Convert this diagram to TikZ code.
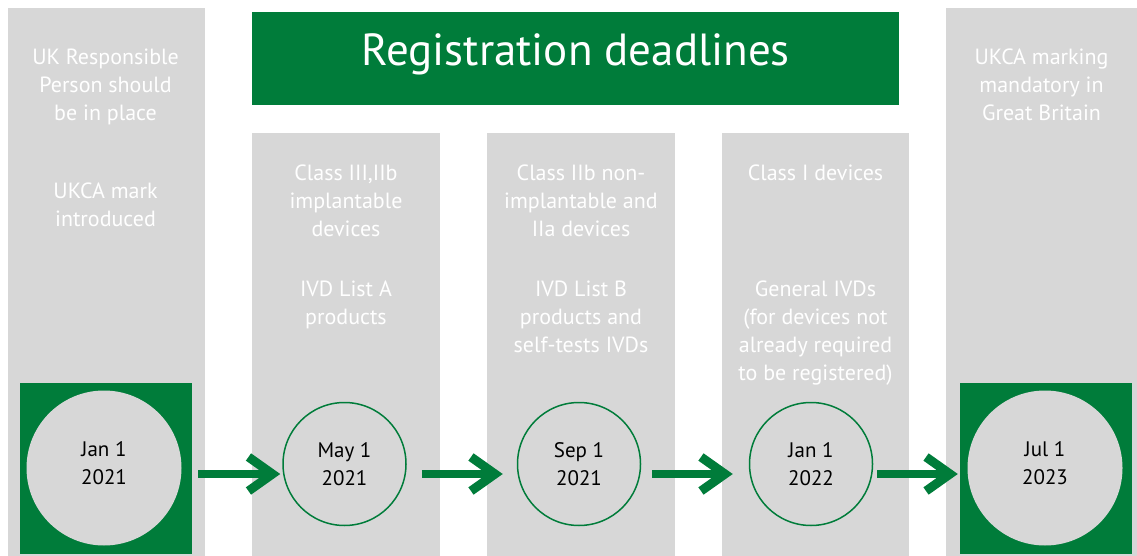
\documentclass[tikz,border=0pt]{standalone}
\usepackage{fontspec}
\setmainfont{PT Sans}
\usetikzlibrary{arrows.meta,positioning}

\definecolor{regGreen}{RGB}{0,124,58}
\definecolor{regGrey}{RGB}{215,215,215}

\begin{document}
\begin{tikzpicture}[
		x=1pt, y=-1pt,
		column/.style={fill=regGrey, inner sep=0pt, anchor=north west},
		heading/.style={fill=regGreen, text=white, inner sep=0pt, anchor=north west, text height=32pt, text depth=18pt, font=\fontsize{45}{54}\selectfont},
		info/.style={text=white, align=center, anchor=north, inner sep=0pt, font=\fontsize{22}{28}\selectfont},
		stamp/.style={fill=regGreen, minimum width=172pt, minimum height=171pt, inner sep=0pt},
		bigdate/.style={circle, fill=regGrey, minimum size=155pt, inner sep=0pt, text depth=10pt, align=center, font=\fontsize{21}{28}\selectfont},
		date/.style={circle, draw=regGreen, line width=1.5pt, minimum size=123pt, inner sep=0pt, align=center, font=\fontsize{21}{28}\selectfont},
		jump/.style={draw=regGreen, line width=8pt, -{Straight Barb[length=24pt, width=34pt, line width=9pt]}},
	]
		\useasboundingbox (0,0) rectangle (1137,556);
		
		\node [column, minimum width=197pt, minimum height=548pt] (col1) at (8,8) {};
		\node [column, minimum width=188pt, minimum height=423pt] (col2) at (252,133) {};
		\node [column, minimum width=188pt, minimum height=423pt] (col3) at (487,133) {};
		\node [column, minimum width=187pt, minimum height=423pt] (col4) at (722,133) {};
		\node [column, minimum width=191pt, minimum height=548pt] (col5) at (946,8) {};
		
		\node [heading, minimum width=647pt, minimum height=93pt] (title) at (252,12) {Registration deadlines};
		
		\node [info] (person) at (105.5,49) {UK Responsible\\Person should\\be in place};
		\node [info] (mark) at (105.5,183) {UKCA mark\\introduced};
		\node [info] (class a) at (346,165) {Class III,IIb\\implantable\\devices};
		\node [info] (ivd a) at (346,281) {IVD List A\\products};
		\node [info] (class b) at (581,165) {Class IIb non-\\implantable and\\IIa devices};
		\node [info] (ivd b) at (581,281) {IVD List B\\products and\\self-tests IVDs};
		\node [info] (class c) at (815.5,165) {Class I devices};
		\node [info] (ivd c) at (815.5,281) {General IVDs\\(for devices not\\already required\\to be registered)};
		\node [info] (mandatory) at (1041.5,49) {UKCA marking\\mandatory in\\Great Britain};
		
		\node [stamp] (start) at (106,468) {};
		\node [stamp] (finish) at (1046,468.5) {};
		\node [bigdate] (jan21) at (104,468) {Jan 1\\2021};
		\node [bigdate] (jul23) at (1045,468) {Jul 1\\2023};
		\node [date] (may21) at (344.5,464) {May 1\\2021};
		\node [date] (sep21) at (579,464) {Sep 1\\2021};
		\node [date] (jan22) at (811,464) {Jan 1\\2022};
		
		\coordinate (rail) at (0,474);
		\draw[jump, shorten <=6pt, shorten >=2pt] (start.east |- rail) -- (may21.west |- rail);
		\draw[jump, shorten <=15pt, shorten >=14pt] (may21.east |- rail) -- (sep21.west |- rail);
		\draw[jump, shorten <=11pt, shorten >=16pt] (sep21.east |- rail) -- (jan22.west |- rail);
		\draw[jump, shorten <=4pt, shorten >=2pt] (jan22.east |- rail) -- (finish.west |- rail);
	\end{tikzpicture}
\end{document}
